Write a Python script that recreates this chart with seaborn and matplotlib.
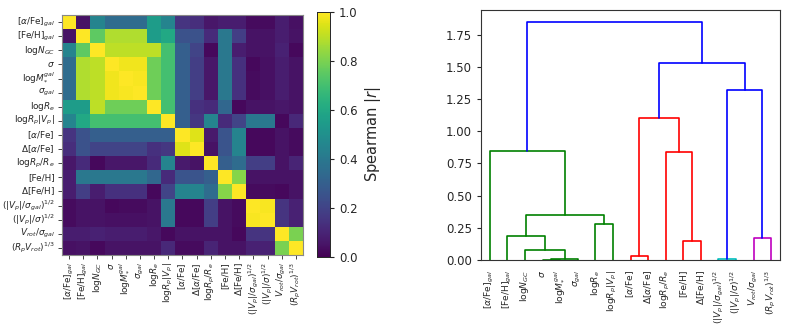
import numpy as np
import pandas as pd
import matplotlib
matplotlib.use("Agg")
import matplotlib.pyplot as plt
import seaborn as sns

sns.set_style("ticks")
plt.rcParams['font.family'] = ['DejaVu Sans']

labels = [r'[$\alpha$/Fe]$_{gal}$', r'[Fe/H]$_{gal}$', r'log$N_{GC}$', r'$\sigma$',
          r'log$M_{*}^{gal}$', r'$\sigma_{gal}$', r'log$R_e$', r'log$R_p|V_p|$',
          r'[$\alpha$/Fe]', r'$\Delta$[$\alpha$/Fe]', r'log$R_p/R_e$', r'[Fe/H]',
          r'$\Delta$[Fe/H]', r'$(|V_p|/\sigma_{gal})^{1/2}$', r'$(|V_p|/\sigma)^{1/2}$',
          r'$V_{rot}/\sigma_{gal}$', r'$(R_pV_{rot})^{1/3}$']

# Spearman |r| matrix (rows/cols in label order)
r00 = [1.00, 0.05, 0.45, 0.35, 0.35, 0.35, 0.55, 0.45, 0.15, 0.13, 0.06, 0.08, 0.08, 0.03, 0.03, 0.08, 0.04]
r01 = [0.05, 1.00, 0.75, 0.88, 0.88, 0.88, 0.55, 0.60, 0.25, 0.25, 0.12, 0.40, 0.18, 0.05, 0.05, 0.08, 0.05]
r02 = [0.45, 0.75, 1.00, 0.90, 0.90, 0.90, 0.90, 0.70, 0.30, 0.20, 0.02, 0.40, 0.08, 0.05, 0.05, 0.09, 0.02]
r03 = [0.35, 0.88, 0.90, 1.00, 0.98, 0.98, 0.78, 0.70, 0.30, 0.18, 0.06, 0.40, 0.14, 0.02, 0.04, 0.08, 0.05]
r04 = [0.35, 0.88, 0.90, 0.98, 1.00, 0.99, 0.78, 0.70, 0.30, 0.18, 0.06, 0.40, 0.14, 0.03, 0.04, 0.08, 0.05]
r05 = [0.35, 0.88, 0.90, 0.98, 0.99, 1.00, 0.78, 0.70, 0.30, 0.18, 0.06, 0.40, 0.14, 0.03, 0.04, 0.08, 0.05]
r06 = [0.55, 0.55, 0.90, 0.78, 0.78, 0.78, 1.00, 0.70, 0.30, 0.14, 0.12, 0.33, 0.02, 0.05, 0.05, 0.06, 0.05]
r07 = [0.45, 0.60, 0.70, 0.70, 0.70, 0.70, 0.70, 1.00, 0.30, 0.16, 0.45, 0.12, 0.20, 0.40, 0.40, 0.02, 0.11]
r08 = [0.15, 0.25, 0.30, 0.30, 0.30, 0.30, 0.30, 0.30, 1.00, 0.95, 0.07, 0.26, 0.45, 0.02, 0.02, 0.05, 0.03]
r09 = [0.13, 0.25, 0.20, 0.20, 0.20, 0.20, 0.14, 0.16, 0.95, 1.00, 0.05, 0.26, 0.45, 0.02, 0.02, 0.05, 0.03]
r10 = [0.06, 0.12, 0.02, 0.06, 0.06, 0.06, 0.12, 0.45, 0.07, 0.05, 1.00, 0.30, 0.35, 0.18, 0.18, 0.05, 0.10]
r11 = [0.08, 0.40, 0.40, 0.40, 0.40, 0.40, 0.33, 0.12, 0.26, 0.26, 0.30, 1.00, 0.82, 0.05, 0.05, 0.05, 0.05]
r12 = [0.08, 0.18, 0.08, 0.14, 0.14, 0.14, 0.02, 0.20, 0.45, 0.45, 0.35, 0.82, 1.00, 0.03, 0.03, 0.02, 0.05]
r13 = [0.03, 0.05, 0.05, 0.02, 0.03, 0.03, 0.05, 0.40, 0.02, 0.02, 0.18, 0.05, 0.03, 1.00, 0.99, 0.15, 0.09]
r14 = [0.03, 0.05, 0.05, 0.04, 0.04, 0.04, 0.05, 0.40, 0.02, 0.02, 0.18, 0.05, 0.03, 0.99, 1.00, 0.15, 0.09]
r15 = [0.08, 0.08, 0.09, 0.08, 0.08, 0.08, 0.06, 0.02, 0.05, 0.05, 0.05, 0.05, 0.02, 0.15, 0.15, 1.00, 0.80]
r16 = [0.04, 0.05, 0.02, 0.05, 0.05, 0.05, 0.05, 0.11, 0.03, 0.03, 0.10, 0.05, 0.05, 0.09, 0.09, 0.80, 1.00]
rows = [r00, r01, r02, r03, r04, r05, r06, r07, r08, r09, r10, r11, r12, r13, r14, r15, r16]

# linkage merges (scipy style): node n+i joins merge_left[i] and merge_right[i] at merge_height[i]
merge_left = [3, 17, 13, 8, 2, 11, 15, 1, 6, 24, 10, 0, 20, 19, 29, 28]
merge_right = [4, 5, 14, 9, 18, 12, 16, 21, 7, 25, 22, 26, 27, 23, 30, 31]
merge_height = [0.003, 0.005, 0.005, 0.03, 0.08, 0.145, 0.17, 0.185, 0.28, 0.35,
                0.84, 0.845, 1.10, 1.32, 1.53, 1.85]

df = pd.DataFrame(rows, index=labels, columns=labels)

fig = plt.figure(figsize=(7.89, 3.29), dpi=100)
W, H = 789, 329
ax = fig.add_axes([62 / W, 1 - 255 / H, 241 / W, 240 / H])
cax = fig.add_axes([317 / W, 1 - 257 / H, 13 / W, 245 / H])
sns.heatmap(df, ax=ax, cbar_ax=cax, cmap='viridis', vmin=0, vmax=1, square=False,
            xticklabels=True, yticklabels=True,
            cbar_kws={'label': 'Spearman $|r|$', 'ticks': [0, 0.2, 0.4, 0.6, 0.8, 1.0]})
for s in ax.spines.values():
    s.set_visible(True)
    s.set_color('#888888')
    s.set_linewidth(0.8)
ax.tick_params(axis='both', labelsize=6.4, length=3, width=0.6, pad=2)
ax.set_xticklabels(labels, rotation=90)
ax.set_yticklabels(labels, rotation=0)
cax.tick_params(labelsize=8.5, length=3)
cax.yaxis.label.set_size(10.5)
for s in cax.spines.values():
    s.set_visible(True)
    s.set_linewidth(0.6)

# Dendrogram
dax = fig.add_axes([481 / W, 1 - 260 / H, 299 / W, 250 / H])
n = len(labels)
children = {}
for i, (a, b, h) in enumerate(zip(merge_left, merge_right, merge_height)):
    children[n + i] = (a, b, h)
root = n + len(merge_height) - 1

order = []
def traverse(node):
    if node < n:
        order.append(node)
    else:
        a, b, _ = children[node]
        traverse(a)
        traverse(b)
traverse(root)
leafx = {leaf: 5 + 10 * k for k, leaf in enumerate(order)}

threshold = 0.7 * max(merge_height)
palette = ['g', 'r', 'c', 'm', 'y', 'k']
node_color = {}
pal_idx = [0]

def assign(node, color=None):
    if node < n:
        return
    a, b, h = children[node]
    if color is None and h < threshold:
        color = palette[pal_idx[0] % len(palette)]
        pal_idx[0] += 1
    node_color[node] = color if color is not None else 'b'
    assign(a, color)
    assign(b, color)
assign(root)

def draw(node):
    if node < n:
        return leafx[node], 0.0
    a, b, h = children[node]
    xa, ya = draw(a)
    xb, yb = draw(b)
    dax.plot([xa, xa, xb, xb], [ya, h, h, yb], color=node_color[node], lw=1.2)
    return (xa + xb) / 2, h
draw(root)

dax.set_xlim(0, 10 * n)
dax.set_ylim(0, max(merge_height) * 1.05)
dax.set_xticks([5 + 10 * k for k in range(n)])
dax.set_xticklabels([labels[i] for i in order], rotation=90, fontsize=6.6)
dax.set_yticks([0, 0.25, 0.5, 0.75, 1.0, 1.25, 1.5, 1.75])
dax.set_yticklabels(['0.00', '0.25', '0.50', '0.75', '1.00', '1.25', '1.50', '1.75'])
dax.tick_params(axis='y', labelsize=8.5, length=3)
dax.tick_params(axis='x', length=0, pad=7)
for s in dax.spines.values():
    s.set_visible(True)
    s.set_color('#333333')
    s.set_linewidth(0.8)

fig.savefig('out.png', dpi=100)
